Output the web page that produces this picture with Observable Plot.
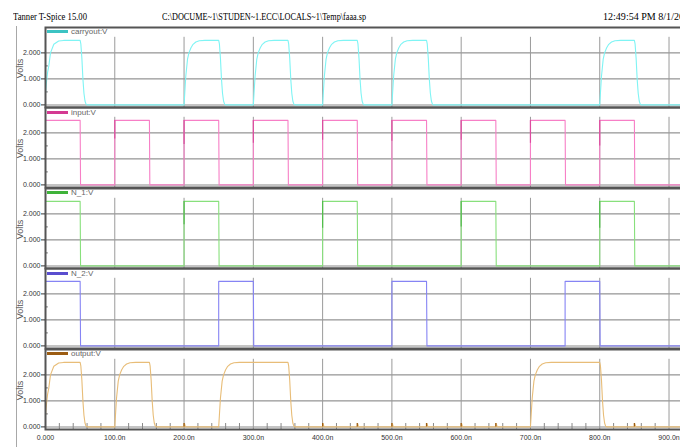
<!DOCTYPE html>
<html><head><meta charset="utf-8">
<script src="https://cdn.jsdelivr.net/npm/d3@7"></script>
<script src="https://cdn.jsdelivr.net/npm/@observablehq/plot@0.6"></script>
<style>
html,body{margin:0;padding:0;background:#fff;}
#root{position:relative;width:680px;height:447px;overflow:hidden;background:#fff;font-family:"Liberation Sans",Arial,sans-serif;}
.title{position:absolute;top:8px;font-family:"Liberation Serif","Times New Roman",serif;font-size:11px;line-height:16px;color:#000;white-space:nowrap;transform-origin:0 50%;}
.panel{position:absolute;left:0;width:684px;}
.panel svg{display:block;}
.sw{position:absolute;left:47px;width:21px;height:3px;}
.lg{position:absolute;left:71px;font-size:8px;line-height:9px;color:#666;white-space:nowrap;}
#vline{position:absolute;left:16px;top:26px;width:1px;height:430px;background:#a8a8a8;}
</style></head><body><div id="root"></div>
<script>
// ---- header texts
const titleLeft = "Tanner T-Spice 15.00";
const titlePath = "C:\\DOCUME~1\\STUDEN~1.ECC\\LOCALS~1\\Temp\\faaa.sp";
const titleTime = "12:49:54 PM 8/1/20";

// ---- signals
const signalNames = ["carryout:V", "input:V", "N_1:V", "N_2:V", "output:V"];
const traceColors = ["#7ff4f4", "#f77fc6", "#88e07c", "#8684f4", "#e8bd78"];
const legendColors = ["#3cc3c3", "#d43a92", "#3fb33a", "#5a4ecf", "#9b5c12"];

// ---- axes
const xTicks = [0, 100, 200, 300, 400, 500, 600, 700, 800, 900];
const xTickLabels = ["0.000", "100.0n", "200.0n", "300.0n", "400.0n", "500.0n", "600.0n", "700.0n", "800.0n", "900.0n"];
const gridTimes = [100, 200, 300, 400, 500, 600, 700, 800, 900];
const minorTimes = [20, 40, 60, 80, 120, 140, 160, 180, 220, 240, 260, 280, 320, 340, 360, 380, 420, 440, 460, 480,
  520, 540, 560, 580, 620, 640, 660, 680, 720, 740, 760, 780, 820, 840, 860, 880, 920];
const yTicks = [0, 1, 2];
const yTickLabels = ["0.000", "1.000", "2.000"];
const yMinorTicks = [0.5, 1.5];

// ---- waveform data (ns, V)
const highV = 2.48;
const carryoutPulses = [[0, 50], [200, 250], [300, 350], [400, 450], [500, 550], [800, 850]];
const inputPulses = [[0, 50], [100, 150], [200, 250], [300, 350], [400, 450], [500, 550], [600, 650], [700, 750], [800, 850]];
const n1Pulses = [[0, 50], [200, 250], [400, 450], [600, 650], [800, 850]];
const n2Pulses = [[0, 50], [250, 300], [500, 550], [750, 800]];
const outputPulses = [[0, 50], [100, 150], [250, 350], [700, 800]];

// edge shapes (offset ns, V)
const rcStart = [[0, 0.47], [1.5, 0.9], [3, 1.25], [4.8, 1.5], [7.2, 2.0], [12, 2.33], [19, 2.46], [26, 2.48]];
const rcRise = [[0, 0], [1, 0.45], [2.5, 1.1], [5, 1.76], [7, 2.0], [10, 2.2], [13, 2.33], [17, 2.42], [22, 2.47], [30, 2.48]];
const rcFall = [[0, 2.48], [1, 2.35], [2.5, 1.8], [4, 1.0], [5.5, 0.45], [7, 0.15], [8.5, 0.03], [10, 0]];

// dark dips at rising edges (time, lowest V)
const inputDips = [[100, 1.77], [200, 1.55], [300, 1.6], [400, 1.72], [500, 1.68], [600, 1.72], [700, 1.6], [800, 1.5]];
const n1Dips = [[200, 1.58], [400, 1.45], [600, 1.5], [800, 1.45]];
// small output glitches (time)
const outputGlitches = [200, 400, 450, 500, 550, 600, 650, 850];
const glitchHeight = 0.13;
const endTime = 925;

function rcTrace(pulses, glitches) {
  const pts = [];
  pulses.forEach(([s, e]) => {
    const rise = s === 0 ? rcStart : rcRise;
    rise.forEach(([dt, v]) => pts.push({t: s + dt, v}));
    rcFall.forEach(([dt, v]) => pts.push({t: e + dt, v}));
  });
  (glitches || []).forEach(g => {
    pts.push({t: g, v: 0}, {t: g + 0.7, v: glitchHeight}, {t: g + 2, v: 0});
  });
  pts.push({t: endTime, v: 0});
  pts.sort((a, b) => a.t - b.t);
  return pts;
}
function sharpTrace(pulses) {
  const pts = [];
  pulses.forEach(([s, e]) => {
    if (s !== 0) pts.push({t: s, v: 0});
    pts.push({t: s, v: highV}, {t: e, v: highV}, {t: e + 0.6, v: 0});
  });
  pts.push({t: endTime, v: 0});
  return pts;
}

const traces = [
  rcTrace(carryoutPulses),
  sharpTrace(inputPulses),
  sharpTrace(n1Pulses),
  sharpTrace(n2Pulses),
  rcTrace(outputPulses, outputGlitches)
];
const dips = [[], inputDips, n1Dips, [], []];

// ---- layout
const root = document.getElementById("root");
function addTitle(text, left, targetWidth) {
  const d = document.createElement("div");
  d.className = "title"; d.style.left = left + "px"; d.textContent = text;
  root.appendChild(d);
  const w = d.getBoundingClientRect().width;
  if (w > 0) d.style.transform = `scaleX(${targetWidth / w})`;
}
addTitle(titleLeft, 13, 74);
addTitle(titlePath, 162, 204);
addTitle(titleTime, 603, 81);
const vl = document.createElement("div"); vl.id = "vline"; root.appendChild(vl);

const zeros = [104, 184.5, 265, 345.5, 426];
const pxPerNs = 0.6928;
const svgWidth = 684;
const xMax = (svgWidth - 45) / pxPerNs;
const tickFont = '"Liberation Sans Narrow","Arial Narrow","Liberation Sans",Arial,sans-serif';

signalNames.forEach((name, i) => {
  const last = i === signalNames.length - 1;
  const mt = 2, mb = last ? 22 : 2;
  const inner = 80;
  const top = zeros[i] - 77.4 - mt;
  const chart = Plot.plot({
    width: svgWidth,
    height: inner + mt + mb,
    marginLeft: 45, marginRight: 0, marginTop: mt, marginBottom: mb,
    style: {fontSize: "7px", fontFamily: tickFont, color: "#333", background: "transparent", overflow: "visible"},
    x: {domain: [0, xMax], axis: last ? "bottom" : null, ticks: xTicks,
        tickFormat: d => xTickLabels[xTicks.indexOf(d)], tickSize: 0, tickPadding: 6, label: null},
    y: {domain: [-0.1, 2.977], axis: null},
    marks: [
      Plot.ruleY([0], {stroke: "#b0b0b0", strokeWidth: 1.5}),
      Plot.ruleY([1, 2], {stroke: "#7a7a7a"}),
      Plot.ruleX(gridTimes, {y1: -0.1, y2: 2.6, stroke: "#9a9a9a"}),
      Plot.ruleY(yMinorTicks, {x1: 0, x2: 4, stroke: "#666"}),
      last ? Plot.ruleX(minorTimes, {y1: -0.1, y2: 0.13, stroke: "#888"}) : null,
      Plot.line(traces[i], {x: "t", y: "v", stroke: traceColors[i], strokeWidth: 1.1}),
      Plot.ruleX(dips[i], {x: d => d[0], y1: d => d[1], y2: highV, stroke: legendColors[i], strokeOpacity: 0.75, strokeWidth: 1.2}),
      last ? Plot.ruleX(outputGlitches, {y1: 0, y2: glitchHeight, stroke: legendColors[i], strokeWidth: 1.3}) : null,
      Plot.frame({stroke: "#555", strokeWidth: 2}),
      // y axis: tick marks + labels
      Plot.ruleY(yTicks, {x1: -4 / pxPerNs, x2: 0, stroke: "#333"}),
      Plot.text(yTicks, {x: () => 0, y: d => d, dx: -5, textAnchor: "end", text: (d, j) => yTickLabels[j],
        fontSize: 7, fill: "#333", fontFamily: tickFont}),
      Plot.text(["Volts"], {x: () => 0, y: () => 1.4, dx: -25, rotate: -90, fontSize: 9, fill: "#555",
        fontFamily: '"Liberation Sans",Arial,sans-serif', text: d => d})
    ]
  });
  const box = document.createElement("div");
  box.className = "panel";
  box.style.top = top + "px";
  box.appendChild(chart);
  const sw = document.createElement("div");
  sw.className = "sw"; sw.style.top = (mt + 3.8) + "px"; sw.style.background = legendColors[i];
  box.appendChild(sw);
  const lg = document.createElement("div");
  lg.className = "lg"; lg.style.top = (mt + 0.8) + "px"; lg.textContent = name;
  box.appendChild(lg);
  root.appendChild(box);
});
</script></body></html>
